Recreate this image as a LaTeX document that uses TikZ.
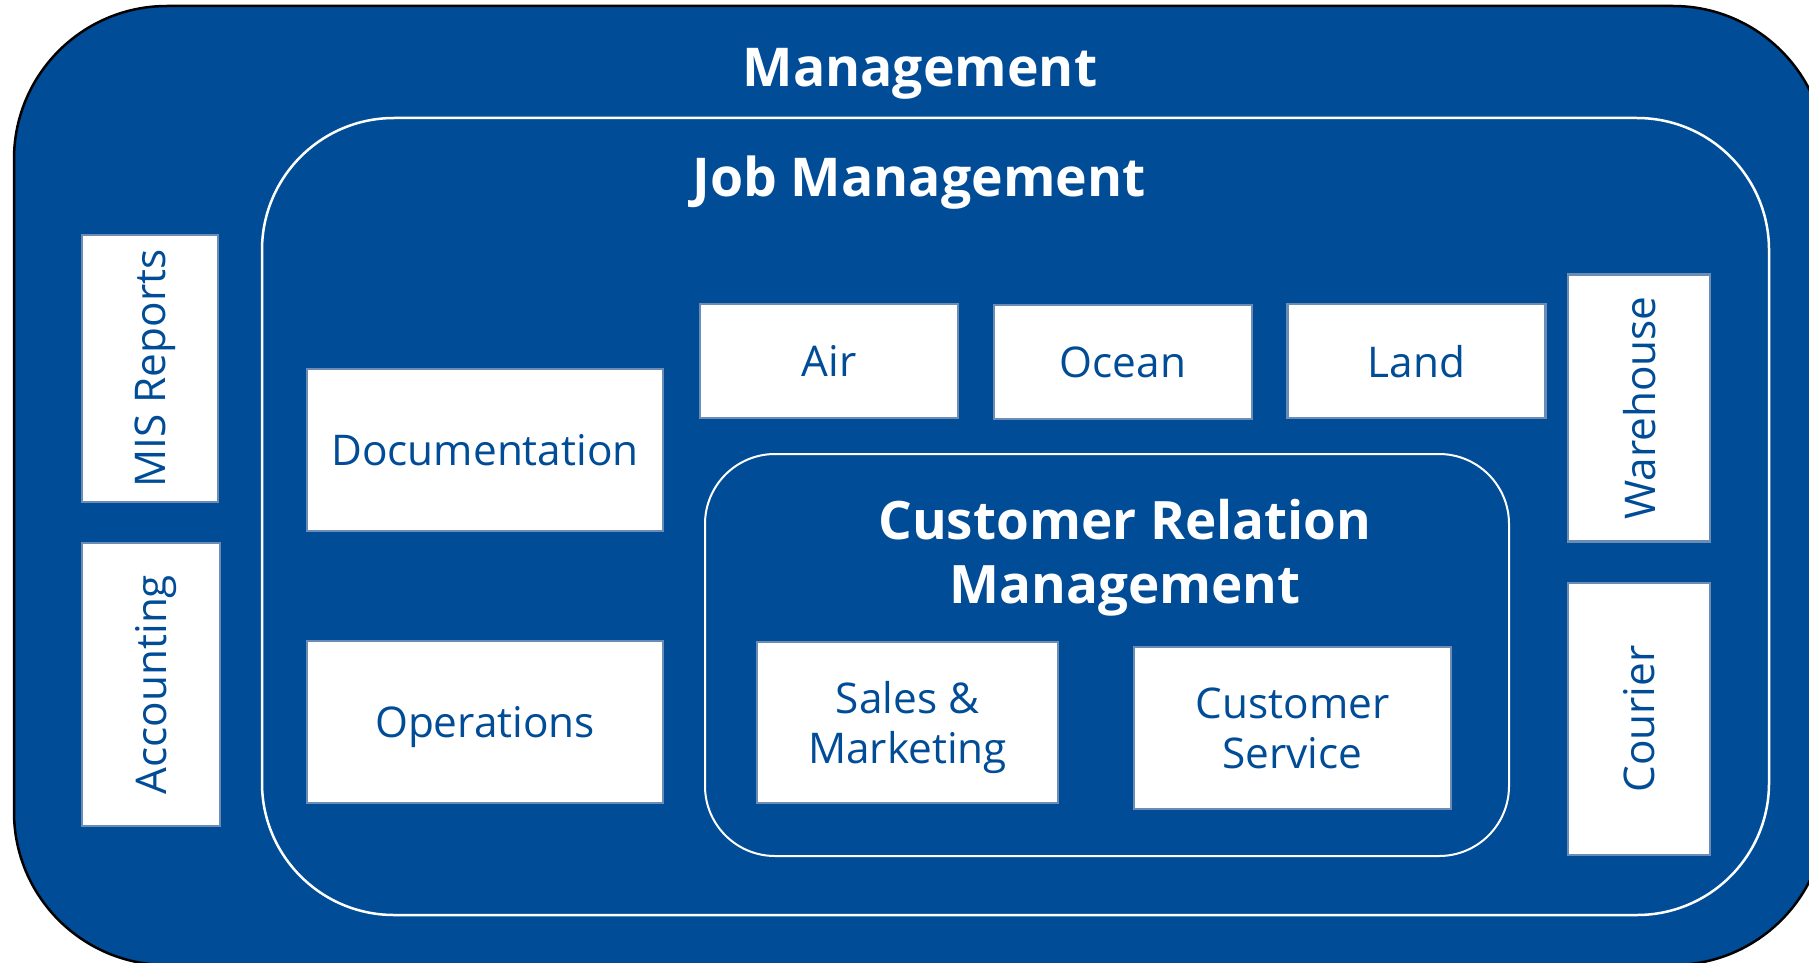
\documentclass[tikz,border=0pt]{standalone}
\usepackage{fontspec}
\setmainfont{Open Sans}
\definecolor{mgmtblue}{HTML}{004C97}
\definecolor{boxedge}{HTML}{6B8DB5}
\tikzset{
  layer/.style={rectangle, fill=mgmtblue, draw=white, line width=2.5pt, inner sep=0pt},
  title/.style={text=white, anchor=base, align=center, font=\bfseries\fontsize{53.5}{64}\selectfont},
  unitbox/.style={rectangle, draw=boxedge, line width=2.5pt, fill=white, text=mgmtblue,
    align=center, inner sep=0pt, text depth=0pt, font=\fontsize{42.3}{50}\selectfont},
  upright/.style={unitbox, rotate=90}
}

\begin{document}
\begin{tikzpicture}[x=1pt,y=-1pt]
  \useasboundingbox (0,0) rectangle (1809,963);
  \clip (0,0) rectangle (1809,963);
  % nested layers
  \node[layer, draw=black, rounded corners=153pt, minimum width=1812pt, minimum height=959pt] (mgmt) at (920,485.5) {};
  \node[layer, rounded corners=132pt, minimum width=1507pt, minimum height=797pt] (job) at (1015.5,516.5) {};
  \node[layer, line width=2pt, rounded corners=70pt, minimum width=804pt, minimum height=402pt] (crm) at (1107,655) {};
  % titles
  \node[title] (mgmttitle) at (920,87) {Management};
  \node[title] (jobtitle) at (919,196) {Job Management};
  \node[title, font=\bfseries\fontsize{53}{64}\selectfont] (crmtitle) at (1125,603) {Customer Relation\\Management};
  % left column
  \node[upright, minimum width=267pt, minimum height=136pt] (mis) at (150,368.5) {MIS Reports};
  \node[upright, minimum width=283pt, minimum height=138pt] (acct) at (151,684.5) {Accounting};
  % job management units
  \node[unitbox, minimum width=356pt, minimum height=162pt] (doc) at (485,450) {Documentation};
  \node[unitbox, minimum width=356pt, minimum height=162pt] (ops) at (485,722) {Operations};
  \node[unitbox, minimum width=258pt, minimum height=114pt] (air) at (829,361) {Air};
  \node[unitbox, minimum width=258pt, minimum height=114pt] (ocean) at (1123,362) {Ocean};
  \node[unitbox, minimum width=258pt, minimum height=114pt] (land) at (1416.5,361) {Land};
  % right column
  \node[upright, minimum width=267pt, minimum height=142pt] (wh) at (1639,408) {Warehouse};
  \node[upright, minimum width=272pt, minimum height=142pt] (courier) at (1639,719) {Courier};
  % crm units
  \node[unitbox, minimum width=301pt, minimum height=161pt] (sales) at (907.5,722.5) {Sales \&\\Marketing};
  \node[unitbox, minimum width=317pt, minimum height=162pt] (service) at (1292.5,728) {Customer\\Service};
\end{tikzpicture}
\end{document}
